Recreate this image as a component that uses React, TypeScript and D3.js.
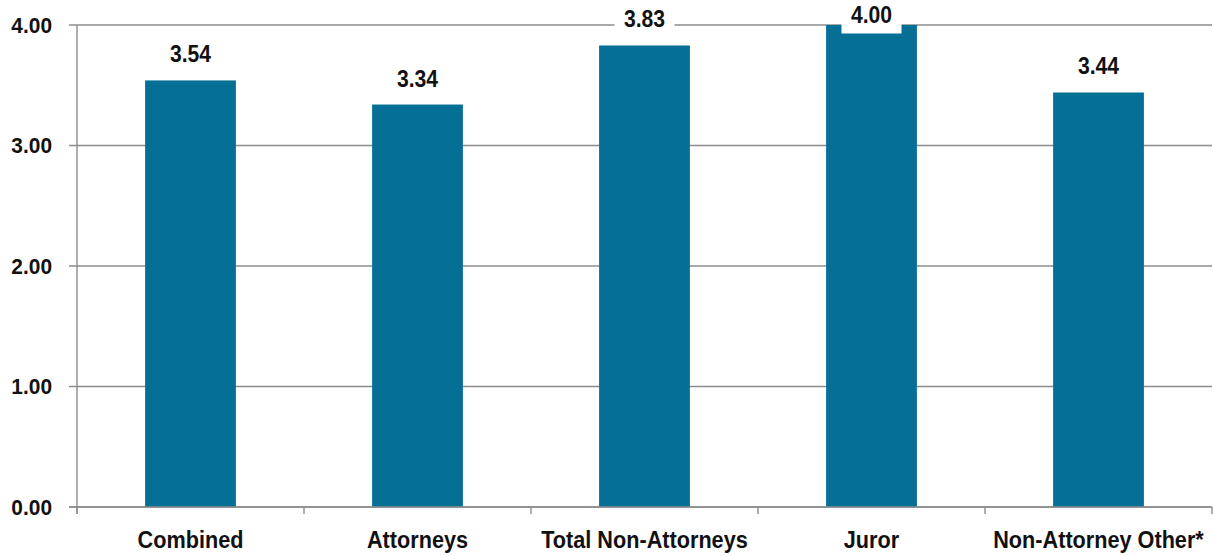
import React from "react";
import * as d3 from "d3";

const categories = ["Combined", "Attorneys", "Total Non-Attorneys", "Juror", "Non-Attorney Other*"];
const values = [3.54, 3.34, 3.83, 4.0, 3.44];
const yTicks = [0, 1, 2, 3, 4];

const W = 1213;
const H = 556;
const M = { left: 77, right: 1, top: 25, bottom: 49 };
const FONT = "'Liberation Sans', Arial, Helvetica, sans-serif";
const BAR = "#056f96";
const GRID = "#8c8c8c";

export default function App() {
  const x = d3
    .scaleBand<string>()
    .domain(categories)
    .range([M.left, W - M.right])
    .paddingInner(0.6)
    .paddingOuter(0.3);
  const band = d3.scaleBand<string>().domain(categories).range([M.left, W - M.right]);
  const y = d3.scaleLinear().domain([0, 4]).range([H - M.bottom, M.top]);
  const y0 = y(0);
  const boundaries = [M.left, ...categories.map((c) => (band(c) as number) + band.bandwidth())];

  return (
    <svg
      width={W}
      height={H}
      style={{ position: "absolute", left: 0, top: 0, background: "#fff" }}
      fontFamily={FONT}
      fontWeight="bold"
    >
      {/* gridlines */}
      {yTicks.map((t) => (
        <g key={"g" + t}>
          <line x1={M.left - 8} x2={W - M.right} y1={y(t)} y2={y(t)} stroke={GRID} strokeWidth={1.4} />
          <text
            transform={`translate(52,${y(t)}) scale(0.95,1)`}
            dy="0.36em"
            textAnchor="end"
            fontSize={22}
            fill="#111"
          >
            {d3.format(".2f")(t)}
          </text>
        </g>
      ))}
      {/* y axis */}
      <line x1={M.left} x2={M.left} y1={M.top} y2={y0 + 7} stroke={GRID} strokeWidth={1.4} />
      {/* x ticks */}
      {boundaries.map((b, i) => (
        <line key={"t" + i} x1={b} x2={b} y1={y0} y2={y0 + 7} stroke={GRID} strokeWidth={1.4} />
      ))}
      {/* bars */}
      {categories.map((c, i) => (
        <rect
          key={"b" + c}
          x={x(c)}
          y={y(values[i])}
          width={x.bandwidth()}
          height={y0 - y(values[i])}
          fill={BAR}
        />
      ))}
      {/* baseline on top */}
      <line x1={M.left - 8} x2={W - M.right} y1={y0} y2={y0} stroke={GRID} strokeWidth={1.4} />
      {/* value labels */}
      {categories.map((c, i) => {
        const cx = (x(c) as number) + x.bandwidth() / 2;
        const base = Math.max(y(values[i]) - 18, M.top - 2);
        return (
          <g key={"v" + c}>
            <rect x={cx - 30} y={base - 24} width={60} height={34.5} fill="#fff" />
            <text
              transform={`translate(${cx},${base}) scale(0.92,1)`}
              textAnchor="middle"
              fontSize={23}
              fill="#111"
            >
              {d3.format(".2f")(values[i])}
            </text>
          </g>
        );
      })}
      {/* x labels */}
      {categories.map((c) => {
        const cx = (band(c) as number) + band.bandwidth() / 2;
        return (
          <text
            key={"x" + c}
            transform={`translate(${cx},${y0 + 41}) scale(0.93,1)`}
            textAnchor="middle"
            fontSize={23.3}
            fill="#111"
          >
            {c}
          </text>
        );
      })}
    </svg>
  );
}
